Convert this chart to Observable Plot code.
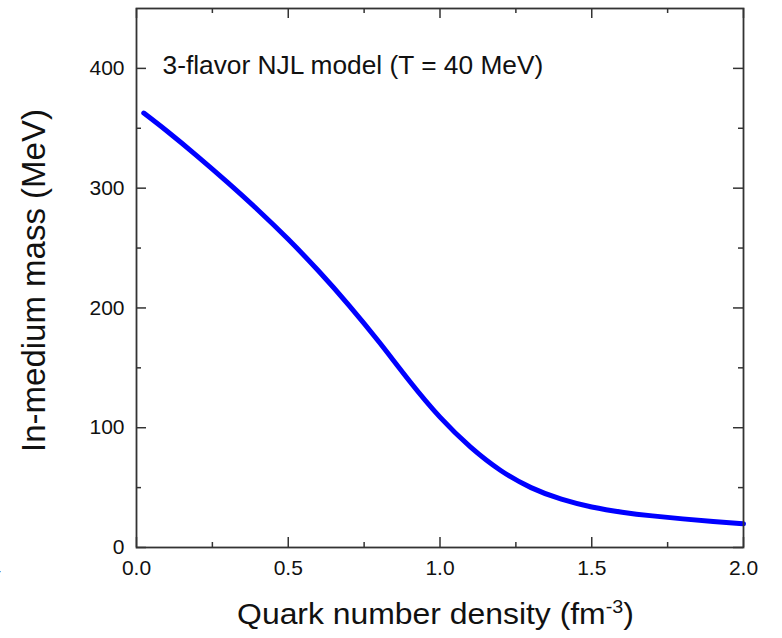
<!DOCTYPE html>
<html>
<head>
<meta charset="utf-8">
<script src="https://cdn.jsdelivr.net/npm/d3@7"></script>
<script src="https://cdn.jsdelivr.net/npm/@observablehq/plot@0.6"></script>
<style>
  html, body { margin: 0; padding: 0; background: #fff; }
  #chart { width: 782px; height: 638px; overflow: hidden; }
</style>
</head>
<body>
<div id="chart"></div>
<script>
// Data
const density = [0.024, 0.10, 0.20, 0.30, 0.40, 0.50, 0.60, 0.70, 0.80, 0.90, 1.00, 1.10, 1.20, 1.30, 1.40, 1.50, 1.60, 1.70, 1.80, 1.90, 2.00];
const mass    = [362.7, 347.7, 326.8, 304.8, 281.8, 257.3, 230.8, 202.2, 171.3, 138.8, 108.8, 84.0, 64.3, 50.0, 40.3, 33.8, 29.5, 26.4, 23.9, 21.7, 19.8];

const xMajor = [0, 0.5, 1.0, 1.5, 2.0];
const xMinor = [0.25, 0.75, 1.25, 1.75];
const yMajor = [0, 100, 200, 300, 400];
const yMinor = [50, 150, 250, 350];

const titleText = ["3-flavor NJL model (T = 40 MeV)"];
const xLabel = "Quark number density (fm";
const xLabelSup = "-3";
const yLabel = "In-medium mass (MeV)";

const data = density.map((d, i) => ({d, m: mass[i]}));

const W = 782, H = 638, mL = 136, mR = 39, mT = 8, mB = 91;
const pw = W - mL - mR, ph = H - mT - mB;
const ink = "#333";
const font = "'Liberation Sans', Arial, Helvetica, sans-serif";

const tickStyle = {stroke: ink, strokeOpacity: 1, strokeWidth: 1.5};

const svg = Plot.plot({
  width: W, height: H,
  marginLeft: mL, marginRight: mR, marginTop: mT, marginBottom: mB,
  style: {fontFamily: font, fontSize: "21px", background: "#fff", color: "#111"},
  x: {domain: [0, 2]},
  y: {domain: [0, 450]},
  marks: [
    // inward ticks: bottom & top
    Plot.gridX(xMajor, {...tickStyle, insetTop: ph - 10}),
    Plot.gridX(xMinor, {...tickStyle, insetTop: ph - 5}),
    Plot.gridX(xMajor, {...tickStyle, insetBottom: ph - 10}),
    Plot.gridX(xMinor, {...tickStyle, insetBottom: ph - 5}),
    // inward ticks: left & right
    Plot.gridY(yMajor, {...tickStyle, insetRight: pw - 10}),
    Plot.gridY(yMinor, {...tickStyle, insetRight: pw - 5}),
    Plot.gridY(yMajor, {...tickStyle, insetLeft: pw - 10}),
    Plot.gridY(yMinor, {...tickStyle, insetLeft: pw - 5}),
    Plot.axisX(xMajor, {anchor: "bottom", tickSize: 0, tickPadding: 13, tickFormat: d => d.toFixed(1), fontSize: 21, fill: "#111", label: null}),
    Plot.axisY(yMajor, {anchor: "left", tickSize: 0, tickPadding: 12, tickFormat: d => String(d), fontSize: 21, fill: "#111", label: null}),
    Plot.line(data, {x: "d", y: "m", stroke: "#0000ff", strokeWidth: 5, curve: "natural", strokeLinecap: "round"}),
    Plot.frame({stroke: ink, strokeWidth: 1.8}),
    Plot.text(titleText, {frameAnchor: "top-left", textAnchor: "start", dx: 26, dy: 46.5, fontSize: 26.3, fill: "#111"})
  ]
});

const s = d3.select(svg);
// x axis title with superscript
const xt = s.append("text")
  .attr("transform", `translate(${mL + pw / 2 - 4},624) scale(1.1,1)`)
  .attr("text-anchor", "middle")
  .attr("font-family", font).attr("font-size", 29).attr("fill", "#111");
xt.append("tspan").text(xLabel);
xt.append("tspan").attr("dy", -11).attr("font-size", 18).text(xLabelSup);
xt.append("tspan").attr("dy", 11).attr("font-size", 29).text(")");

// y axis title
s.append("text")
  .attr("transform", `translate(45,280.5) rotate(-90)`)
  .attr("text-anchor", "middle")
  .attr("font-family", font).attr("font-size", 33).attr("fill", "#111")
  .text(yLabel);

// cropped stray label at the left edge
s.append("text")
  .attr("x", -5).attr("y", 575)
  .attr("font-family", font).attr("font-size", 21).attr("fill", "#111")
  .text("4");

document.getElementById("chart").appendChild(svg);
</script>
</body>
</html>
